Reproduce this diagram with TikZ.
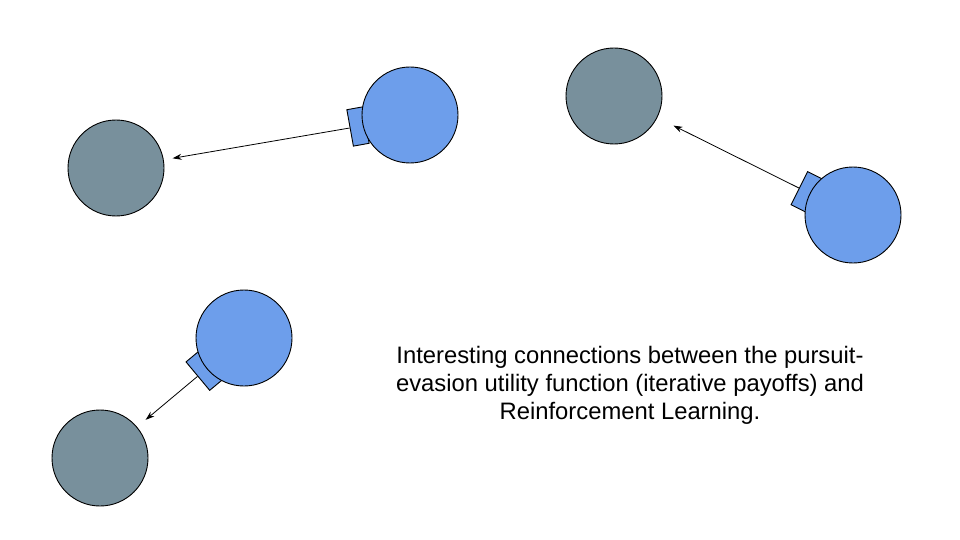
\documentclass[tikz,border=0pt]{standalone}
\usepackage{fontspec}
\setmainfont{Liberation Sans}
\usetikzlibrary{arrows.meta}

\definecolor{pursuerblue}{RGB}{109,158,235}
\definecolor{evadergray}{RGB}{120,144,156}

\tikzset{
  pursuer/.style={draw, circle, fill=pursuerblue, minimum size=96pt, inner sep=0pt, line width=0.9pt},
  evader/.style={draw, circle, fill=evadergray, minimum size=96pt, inner sep=0pt, line width=0.9pt},
  gunbox/.style={draw, rectangle, fill=pursuerblue, minimum width=16pt, minimum height=37pt, inner sep=0pt, line width=0.9pt},
  chase/.style={-{Stealth[length=9pt,width=6pt]}, line width=0.8pt}
}

\begin{document}
\begin{tikzpicture}[x=1pt, y=-1pt]
  \useasboundingbox (0,0) rectangle (960,540);

  % Evaders
  \node[evader] (e1) at (116,168) {};
  \node[evader] (e2) at (614,96) {};
  \node[evader] (e3) at (100,458) {};

  % Pursuer gun boxes
  \node[gunbox, rotate=190.2] (g1) at (358,126.5) {};
  \node[gunbox, rotate=153.5] (g2) at (806.5,191.8) {};
  \node[gunbox, rotate=219.8] (g3) at (204,371) {};

  % Pursuers
  \node[pursuer] (p1) at (410,115) {};
  \node[pursuer] (p2) at (853,215) {};
  \node[pursuer] (p3) at (244,338) {};

  % Pursuit arrows
  \draw[chase, shorten >=9pt] (g1.east) -- (e1);
  \draw[chase, shorten >=18pt] (g2.east) -- (e2);
  \draw[chase, shorten >=11pt] (g3.east) -- (e3);

  % Caption
  \node[align=center, font=\fontsize{23.8}{28}\selectfont] (caption) at (630,385)
    {Interesting connections between the pursuit-\\
     evasion utility function (iterative payoffs) and\\
     Reinforcement Learning.};
\end{tikzpicture}
\end{document}
